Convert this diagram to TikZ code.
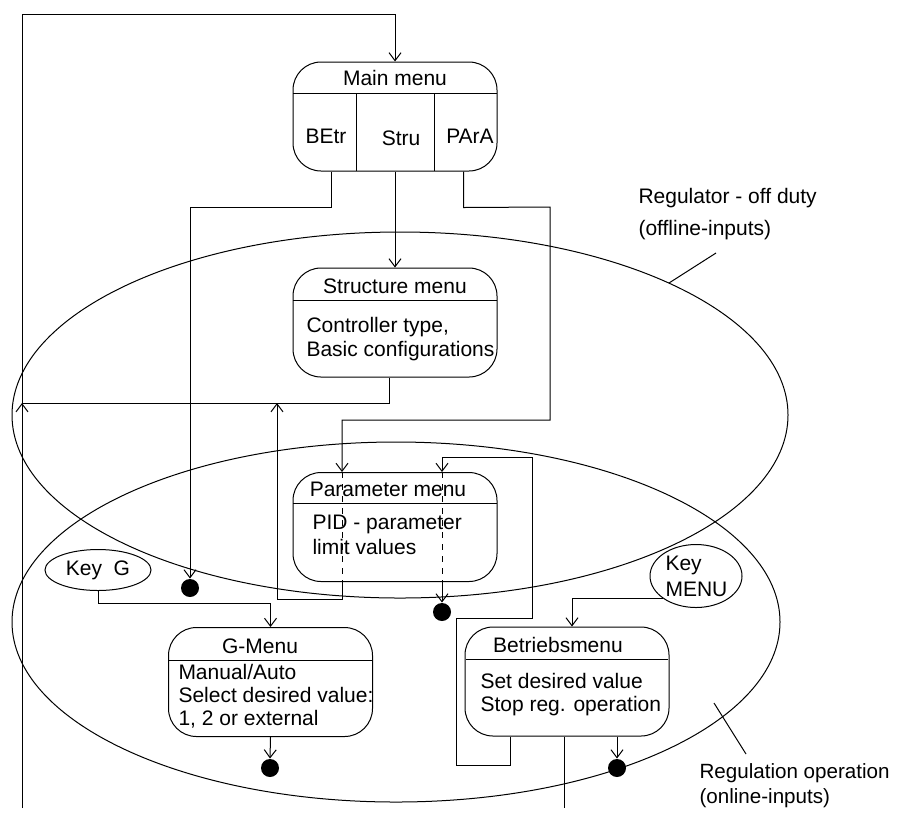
\documentclass[tikz,border=0pt]{standalone}
\usepackage{fontspec}
\setmainfont{Liberation Sans}
\usetikzlibrary{arrows.meta,shapes.geometric}
\tikzset{
  menubox/.style={draw, rounded corners=14pt, minimum width=102pt, minimum height=54.5pt, inner sep=0pt},
  keyell/.style={draw, ellipse, inner sep=0pt},
  enddot/.style={circle, fill, inner sep=0pt, minimum size=9pt},
  bodytext/.style={anchor=base west, align=left, inner sep=0pt},
}
\begin{document}
\begin{tikzpicture}[x=0.5pt, y=-0.5pt, line width=0.5pt,
    >={Straight Barb[length=4pt,width=6pt]},
    font=\fontsize{10.5}{12}\selectfont]
  \useasboundingbox (0,0) rectangle (897,826);
  % the two zones
  \draw (400,415) ellipse [x radius=194pt, y radius=91.5pt];
  \draw (396,622) ellipse [x radius=192pt, y radius=90pt];
  \node[bodytext, font=\fontsize{10.5}{16}\selectfont] (offlbl) at (638,235) {Regulator - off duty\\(offline-inputs)};
  \draw (716,253) -- (669,283);
  \node[bodytext, font=\fontsize{10.3}{12.5}\selectfont] (onlbl) at (699,803) {Regulation operation\\(online-inputs)};
  \draw (746,754) -- (714,703);

  % main menu
  \node[menubox] (mainbox) at (395,116.5) {};
  \node (maintitle) at (395,78) {Main menu};
  \draw (293,93) -- (497,93);
  \draw (356,93) -- (356,171);
  \draw (434,93) -- (434,171);
  \node (betr) at (326,136) {BEtr};
  \node (stru) at (401,138) {Stru};
  \node (para) at (470,136) {PArA};

  % structure menu
  \node[menubox] (strbox) at (395,322.5) {};
  \node (strtitle) at (395,286) {Structure menu};
  \draw (293,300) -- (497,300);
  \node[bodytext] (strbody) at (306,356) {Controller type,\\Basic configurations};

  % parameter menu
  \node[menubox] (parbox) at (395,527) {};
  \node (partitle) at (388,489) {Parameter menu};
  \draw (293,503) -- (497,503);
  \node[bodytext, font=\fontsize{10.5}{12.5}\selectfont] (parbody) at (312,554) {PID - parameter\\limit values};

  % G-menu
  \node[menubox] (gbox) at (270.5,682) {};
  \node (gtitle) at (260,646) {G-Menu};
  \draw (168,660) -- (373,660);
  \node[bodytext, font=\fontsize{10.5}{11.5}\selectfont] (gbody) at (178,725) {Manual/Auto\\Select desired value:\\1, 2 or external};

  % Betriebsmenu
  \node[menubox] (opbox) at (567,681.5) {};
  \node (optitle) at (558,645) {Betriebsmenu};
  \draw (466,659) -- (668,659);
  \node[bodytext, font=\fontsize{10.5}{11.5}\selectfont] (opbody) at (480,711) {Set desired value\\Stop reg. operation};

  % keys
  \node[keyell, minimum width=53pt, minimum height=20.5pt] (keyg) at (98,570) {Key~~G};
  \node[keyell, minimum width=46pt, minimum height=31.5pt] (keymenu) at (696,576) {};
  \node[bodytext, font=\fontsize{10.5}{13}\selectfont] (keymenutext) at (665,596) {Key\\MENU};

  % end states
  \node[enddot] (dotb) at (190,588) {};
  \node[enddot] (dotp) at (442,612) {};
  \node[enddot] (dotg) at (270,768) {};
  \node[enddot] (doto) at (617,768) {};

  % free ends
  \coordinate (pin1) at (342,472);
  \coordinate (pin2) at (442,472);
  \coordinate (botl) at (22,808);
  \coordinate (botr) at (564,808);

  % connectors
  \draw[->] ([xshift=-3pt]strbox.south) |- (22,403) -- (22,14) -| (mainbox.north);
  \draw[->] (botl) -- (22,403);
  \draw[->] (mainbox.south) -- (strbox.north);
  \draw[->] ([xshift=19.5pt]mainbox.south west) -- ++(0,36) -| (dotb.north);
  \draw[->] ([xshift=85.5pt]mainbox.south west) -- ++(0,36) -- (550,207) |- (342,420) -- (pin1);
  \draw[dashed] (pin1) -- (342,582);
  \draw[->] (342,582) |- (277,599) -- (277,403);
  \draw[->] ([xshift=23pt]opbox.south west) |- (456,765) |- (532,618) |- (442,457) -- (pin2);
  \draw[dashed] (pin2) -- (442,582);
  \draw[->] (442,582) -- (dotp.north);
  \draw ([xshift=-1.5pt]opbox.south) -- (botr);
  \draw[->] (doto |- opbox.south) -- (doto.north);
  \draw[->] (gbox.south) -- (dotg.north);
  \draw[->] (keyg.south) -- ++(0,12) -| (gbox.north);
  \draw[->] (keymenu.south west) -- (keymenu.south west -| 572,0) -- ([xshift=2.5pt]opbox.north);
\end{tikzpicture}
\end{document}
